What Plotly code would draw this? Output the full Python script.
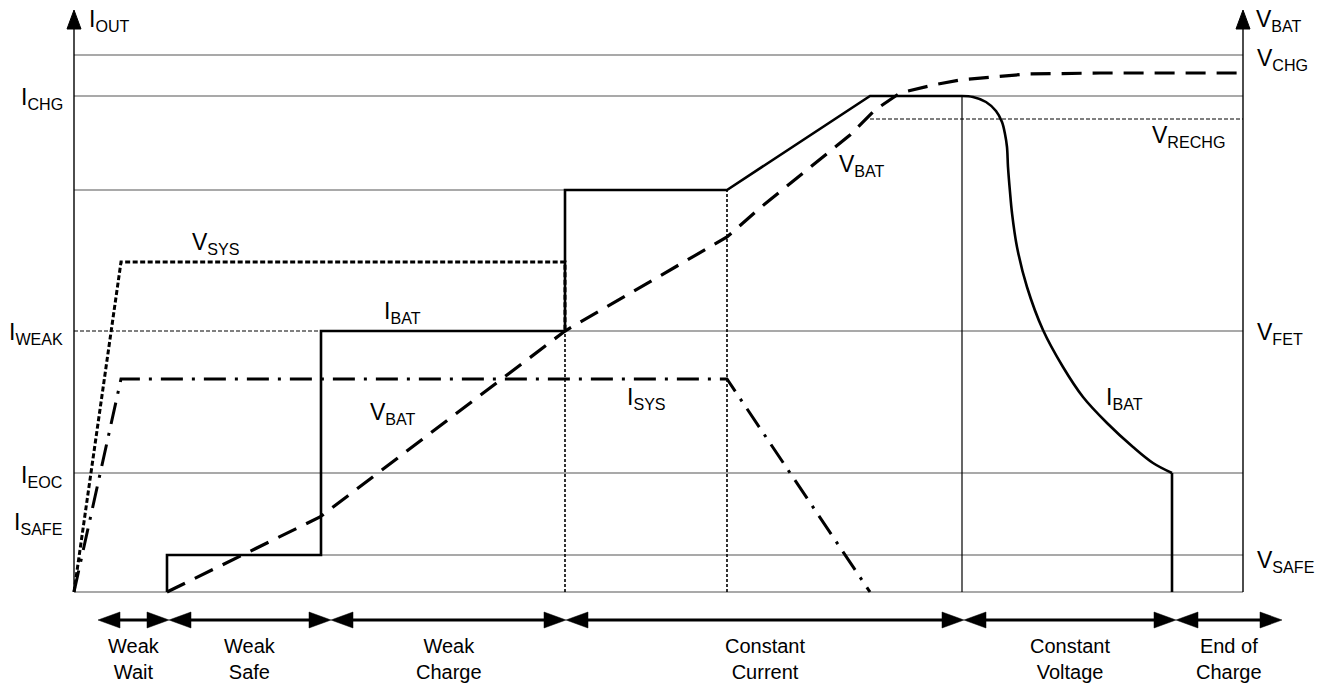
import plotly.graph_objects as go

# ---------------- data (time units along x, level units along y) ----------------
# V_SYS (dotted)
t_vsys = [0, 47, 491, 491]
v_sys = [0, 330, 330, 261]
# I_SYS (dash-dot)
t_isys = [0, 47, 653, 796]
i_sys = [0, 213, 213, 0]
# I_BAT step part (solid)
t_ibat = [93, 93, 247, 247, 491, 491, 653, 796, 888]
i_bat = [0, 37, 37, 261, 261, 402, 402, 496, 496]
# I_BAT constant-voltage decay (solid)
t_ibat_cv = [888, 899, 912, 922, 928, 931, 933, 934, 936, 938, 943, 953, 969, 989, 1009, 1033, 1059, 1079, 1098]
i_bat_cv = [496, 495, 490, 481, 470, 458, 445, 425, 400, 379, 345, 305, 262, 225, 195, 169, 145, 129, 119]
# I_BAT end-of-charge drop
t_ibat_eoc = [1098, 1098]
i_bat_eoc = [119, 0]
# V_BAT (dashed)
t_vbat = [93, 246, 491, 653, 686, 776, 801, 826, 859, 886, 919, 953, 1026, 1169]
v_bat = [0, 75, 261, 355, 384, 457, 482, 499, 507, 512, 515, 518, 519, 519]

# reference levels
lvl_top, lvl_ichg, lvl_cc, lvl_vrechg = 537, 496, 402, 473
lvl_weak, lvl_eoc, lvl_safe = 261, 119, 37
t_end = 1169
t_cv = 888
t_cc1 = 653
t_weak = 491
t_safe = 247
t_ramp = 796

# phases along the bottom
phase_edges = [24, 95, 257, 492, 890, 1102, 1208]
phase_names = ["Weak<br>Wait", "Weak<br>Safe", "Weak<br>Charge", "Constant<br>Current",
               "Constant<br>Voltage", "End of<br>Charge"]

FONT = "Liberation Sans, Arial, Helvetica, sans-serif"
GRID = "#555555"

fig = go.Figure()

def line(x, y, dash="solid", width=2.6, shape="linear"):
    fig.add_trace(go.Scatter(x=x, y=y, mode="lines", hoverinfo="skip", showlegend=False,
                             line=dict(color="black", width=width, dash=dash, shape=shape)))

# thin reference lines
shapes = []
def hline(x0, x1, y, dash="solid", width=1.2, color=GRID):
    shapes.append(dict(type="line", xref="x", yref="y", x0=x0, x1=x1, y0=y, y1=y,
                       line=dict(color=color, width=width, dash=dash), layer="below"))
def vline(x, y0, y1, dash="solid", width=1.2, color="black"):
    shapes.append(dict(type="line", xref="x", yref="y", x0=x, x1=x, y0=y0, y1=y1,
                       line=dict(color=color, width=width, dash=dash), layer="below"))

hline(0, t_end, lvl_top)
hline(0, t_end, lvl_ichg)
hline(0, t_weak, lvl_cc)
hline(0, t_safe, lvl_weak, dash="4px,2px", color="black", width=1)
hline(t_weak, t_end, lvl_weak)
hline(0, t_end, lvl_eoc)
hline(t_safe, t_end, lvl_safe)
hline(0, t_end, 0)
hline(t_ramp, t_end, lvl_vrechg, dash="4px,2px", color="black", width=1)
vline(t_cv, 0, lvl_ichg, width=1.2)
vline(t_cc1, 0, lvl_cc, dash="3px,2px", width=1.6)
vline(t_weak, 0, lvl_weak, dash="3px,2px", width=1.6)

# axes with arrowheads
axis_top = 565
vline(0, 0, axis_top, width=1.4)
vline(t_end, 0, axis_top, width=1.4)
for ax in (0, t_end):
    shapes.append(dict(type="path", xref="x", yref="y",
                       path=f"M {ax-7},{axis_top-2} L {ax+7},{axis_top-2} L {ax},{axis_top+17} Z",
                       fillcolor="black", line=dict(color="black", width=1)))

# phase arrows
arrow_y = -28
L, H = 22, 8
for a, b in zip(phase_edges[:-1], phase_edges[1:]):
    shapes.append(dict(type="line", xref="x", yref="y", x0=a + 10, x1=b - 10, y0=arrow_y, y1=arrow_y,
                       line=dict(color="black", width=3)))
    shapes.append(dict(type="path", xref="x", yref="y",
                       path=f"M {a},{arrow_y} L {a+L},{arrow_y+H} L {a+L},{arrow_y-H} Z",
                       fillcolor="black", line=dict(color="black", width=0.5)))
    shapes.append(dict(type="path", xref="x", yref="y",
                       path=f"M {b},{arrow_y} L {b-L},{arrow_y+H} L {b-L},{arrow_y-H} Z",
                       fillcolor="black", line=dict(color="black", width=0.5)))

# curves
line(t_vsys, v_sys, dash="5px,2.5px", width=3)
line(t_isys, i_sys, dash="22px,9px,3px,9px", width=3)
line(t_vbat, v_bat, dash="20px,11px", width=3.2)
line(t_ibat, i_bat, width=2.6)
line(t_ibat_cv, i_bat_cv, width=2.6, shape="spline")
line(t_ibat_eoc, i_bat_eoc, width=2.6)

# labels
annotations = []
def label(text, x, y, xanchor="left", size=23):
    annotations.append(dict(text=text, x=x, y=y, xref="x", yref="y", showarrow=False,
                            xanchor=xanchor, yanchor="middle",
                            font=dict(family=FONT, size=size, color="black")))

label("I<sub>OUT</sub>", 13, 572)
label("V<sub>BAT</sub>", 1180, 572)
label("I<sub>CHG</sub>", -9, 494, "right")
label("I<sub>WEAK</sub>", -9, 259, "right")
label("I<sub>EOC</sub>", -9, 116, "right")
label("I<sub>SAFE</sub>", -9, 69, "right")
label("V<sub>CHG</sub>", 1181, 533)
label("V<sub>RECHG</sub>", 1076, 456)
label("V<sub>FET</sub>", 1181, 259)
label("V<sub>SAFE</sub>", 1181, 31)
label("V<sub>SYS</sub>", 116, 349)
label("I<sub>BAT</sub>", 308, 280)
label("V<sub>BAT</sub>", 294, 179)
label("I<sub>SYS</sub>", 551, 194)
label("V<sub>BAT</sub>", 763, 427)
label("I<sub>BAT</sub>", 1030, 194)

for a, b, name in zip(phase_edges[:-1], phase_edges[1:], phase_names):
    annotations.append(dict(text=name, x=(a + b) / 2, y=-41, xref="x", yref="y", showarrow=False,
                            xanchor="center", yanchor="top", align="center",
                            font=dict(family=FONT, size=20, color="black")))

fig.update_layout(
    width=1325, height=685, margin=dict(l=0, r=0, t=0, b=0),
    paper_bgcolor="white", plot_bgcolor="white",
    xaxis=dict(range=[-74, 1251], visible=False, fixedrange=True),
    yaxis=dict(range=[-93, 592], visible=False, fixedrange=True),
    shapes=shapes, annotations=annotations,
)
fig.write_html("out.html", config={"displayModeBar": False},
               post_script="document.body.style.margin='0px';document.body.style.overflow='hidden';")
